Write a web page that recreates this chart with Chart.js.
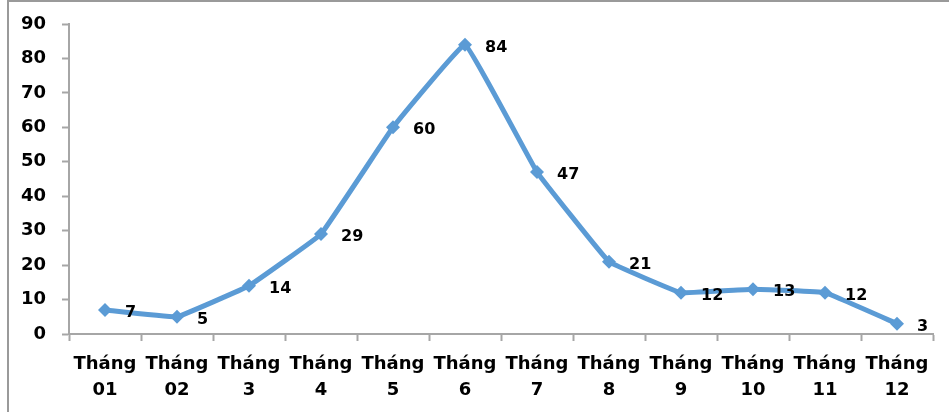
<!DOCTYPE html>
<html>
<head>
<meta charset="utf-8">
<script src="https://cdn.jsdelivr.net/npm/chart.js@4.4.0/dist/chart.umd.min.js"></script>
<style>
    html, body { margin: 0; padding: 0; background: #ffffff; }
    #wrap { position: relative; width: 949px; height: 412px; }
</style>
</head>
<body>
<div id="wrap"><canvas id="chart" width="949" height="412"></canvas></div>
<script>
const months = [
    ['Tháng', '01'], ['Tháng', '02'], ['Tháng', '3'], ['Tháng', '4'],
    ['Tháng', '5'], ['Tháng', '6'], ['Tháng', '7'], ['Tháng', '8'],
    ['Tháng', '9'], ['Tháng', '10'], ['Tháng', '11'], ['Tháng', '12'],
];
const cases = [7, 5, 14, 29, 60, 84, 47, 21, 12, 13, 12, 3];
const yTicks = [0, 10, 20, 30, 40, 50, 60, 70, 80, 90];

const lineColor = '#5b9bd5';
const axisColor = '#a6a6a6';
const fontFamily = '"DejaVu Sans", Verdana, sans-serif';

const ctx = document.getElementById('chart').getContext('2d');

new Chart(ctx, {
    type: 'line',
    data: {
        labels: months,
        datasets: [{
            data: cases,
            borderColor: lineColor,
            backgroundColor: lineColor,
            borderWidth: 5,
            tension: 0.06,
            pointStyle: 'rectRot',
            pointRadius: 7,
            pointBorderWidth: 0,
            pointBackgroundColor: lineColor,
            clip: false,
        }],
    },
    options: {
        responsive: false,
        animation: false,
        layout: {
            padding: {top: 24, right: 16, bottom: 0, left: 0},
        },
        scales: {
            x: {
                offset: true,
                border: {color: axisColor, width: 2},
                grid: {
                    offset: true,
                    drawOnChartArea: false,
                    drawTicks: true,
                    tickLength: 7,
                    tickColor: axisColor,
                    tickWidth: 2,
                },
                ticks: {
                    color: '#000000',
                    padding: 10,
                    maxRotation: 0,
                    autoSkip: false,
                    font: {family: fontFamily, size: 18, weight: 'bold', lineHeight: 1.45},
                },
                afterFit: (scale) => {
                    scale.height = 78;
                    scale.paddingLeft = 0;
                    scale.paddingRight = 0;
                },
            },
            y: {
                min: 0,
                max: 90,
                border: {color: axisColor, width: 2},
                grid: {
                    drawOnChartArea: false,
                    drawTicks: true,
                    tickLength: 7,
                    tickColor: axisColor,
                    tickWidth: 2,
                },
                afterBuildTicks: (scale) => {
                    scale.ticks = yTicks.map((v) => ({value: v}));
                },
                ticks: {
                    color: '#000000',
                    padding: 16,
                    font: {family: fontFamily, size: 18, weight: 'bold'},
                },
                afterFit: (scale) => {
                    scale.width = 69;
                    scale.paddingTop = 0;
                    scale.paddingBottom = 0;
                },
            },
        },
        plugins: {
            legend: {display: false},
            tooltip: {enabled: false},
        },
    },
    plugins: [{
        id: 'frame',
        beforeDraw(c) {
            const g = c.ctx;
            g.save();
            g.strokeStyle = '#9a9a9a';
            g.lineWidth = 2;
            g.beginPath();
            g.moveTo(8, c.height);
            g.lineTo(8, 1);
            g.lineTo(c.width, 1);
            g.stroke();
            g.restore();
        },
    }, {
        id: 'valueLabels',
        afterDatasetsDraw(c) {
            const g = c.ctx;
            const meta = c.getDatasetMeta(0);
            g.save();
            g.fillStyle = '#000000';
            g.font = 'bold 16px ' + fontFamily;
            g.textAlign = 'left';
            g.textBaseline = 'middle';
            meta.data.forEach((pt, i) => {
                g.fillText(String(cases[i]), pt.x + 20, pt.y + 3);
            });
            g.restore();
        },
    }],
});
</script>
</body>
</html>
